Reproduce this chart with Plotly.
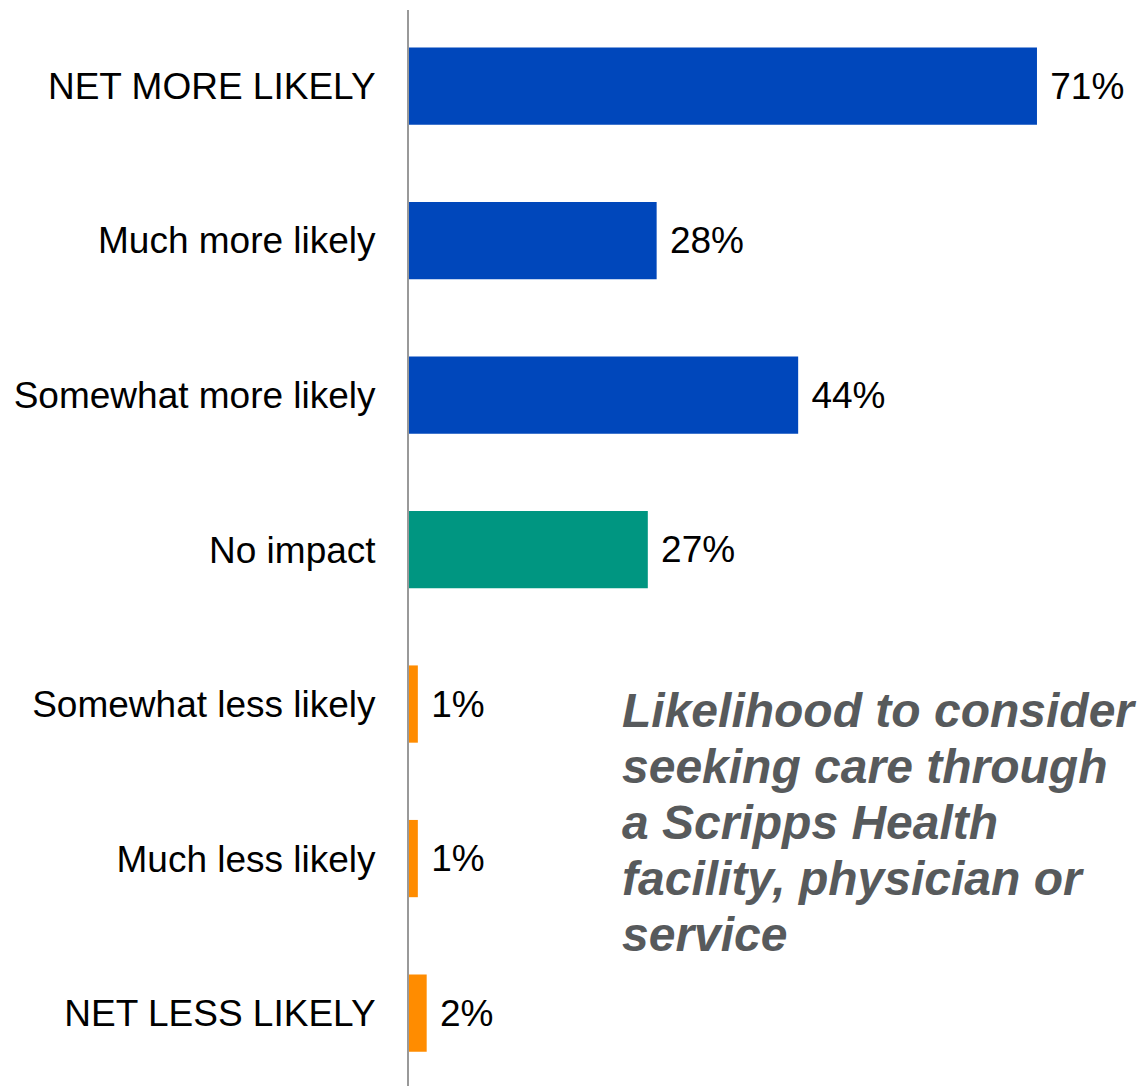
import plotly.graph_objects as go

categories = ["NET MORE LIKELY", "Much more likely", "Somewhat more likely", "No impact",
              "Somewhat less likely", "Much less likely", "NET LESS LIKELY"]
values = [71, 28, 44, 27, 1, 1, 2]
colors = ["#0047BB", "#0047BB", "#0047BB", "#009681", "#FF8C00", "#FF8C00", "#FF8C00"]
note_lines = ["Likelihood to consider", "seeking care through", "a Scripps Health",
              "facility, physician or", "service"]

W, H = 1147, 1086
OFF = 8  # page body offset
L, R, T, B = 409 - OFF, 26 + OFF, 10 - OFF, 0 + OFF

fig = go.Figure(go.Bar(
    x=values, y=categories, orientation="h",
    marker=dict(color=colors, line=dict(width=0)),
    width=0.5,
    texttemplate="\u00a0%{x}%", textposition="outside",
    textfont=dict(family="Liberation Sans, Arial", size=37, color="#000000"),
    cliponaxis=False,
))

fig.update_layout(
    width=W, height=H,
    margin=dict(l=L, r=R, t=T, b=B),
    paper_bgcolor="white", plot_bgcolor="white",
    showlegend=False,
    xaxis=dict(range=[0, 80.5], visible=False),
    yaxis=dict(categoryorder="array", categoryarray=categories,
               range=[6.472, -0.492], showgrid=False, zeroline=False,
               showline=True, linecolor="#999999", linewidth=2,
               ticks="", ticklabelstandoff=24,
               tickfont=dict(family="Liberation Sans, Arial", size=37, color="#000000")),
    font=dict(family="Liberation Sans, Arial"),
)

plot_h = H - T - B
plot_w = W - L - R
centers = [710, 766, 822, 878, 934]  # screen px
for line, cy in zip(note_lines, centers):
    fig.add_annotation(
        text=f"<b><i>{line}</i></b>", xref="paper", yref="paper",
        x=(620 - 409) / plot_w, y=1 - (cy - 10) / plot_h,
        xanchor="left", yanchor="middle", showarrow=False,
        font=dict(family="Liberation Sans, Arial", size=48, color="#575A5C"),
    )

fig.write_html("out.html")
